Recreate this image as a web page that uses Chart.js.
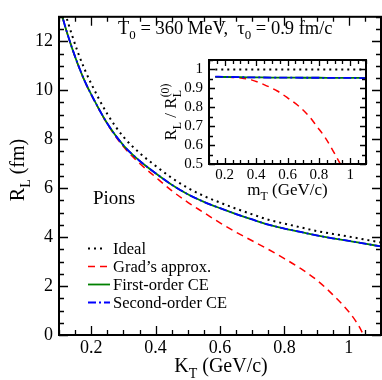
<!DOCTYPE html>
<html>
<head>
<meta charset="utf-8">
<script src="https://cdn.jsdelivr.net/npm/chart.js@4.4.1/dist/chart.umd.min.js"></script>
<style>
  html, body { margin: 0; padding: 0; background: #fff; }
  #wrap { position: relative; width: 382px; height: 380px; }
  #main { position: absolute; left: 0; top: 0; }
  #inset { position: absolute; left: 160px; top: 45px; }
</style>
</head>
<body>
<div id="wrap">
  <canvas id="main" width="382" height="380"></canvas>
  <canvas id="inset" width="220" height="160"></canvas>
</div>
<script>
// main panel: R_L vs K_T
const kT = [0.10, 0.12, 0.14, 0.16, 0.18, 0.20, 0.25, 0.30, 0.35, 0.40, 0.45, 0.50, 0.55, 0.60, 0.65, 0.70, 0.75, 0.80, 0.85, 0.90, 0.95, 1.00, 1.05, 1.10];
const rIdeal = [14.1, 13.12, 12.27, 11.5, 10.84, 10.27, 9.03, 8.1, 7.44, 6.91, 6.42, 6.01, 5.68, 5.41, 5.16, 4.93, 4.71, 4.55, 4.4, 4.25, 4.13, 4.02, 3.9, 3.78];
const rFirst = [13.5, 12.56, 11.74, 11.01, 10.37, 9.83, 8.64, 7.75, 7.12, 6.61, 6.14, 5.75, 5.44, 5.18, 4.94, 4.72, 4.51, 4.35, 4.21, 4.07, 3.95, 3.85, 3.73, 3.62];
const rSecond = [13.52, 12.57, 11.75, 11.02, 10.37, 9.83, 8.64, 7.75, 7.12, 6.61, 6.14, 5.75, 5.44, 5.18, 4.94, 4.72, 4.51, 4.35, 4.21, 4.07, 3.95, 3.85, 3.73, 3.62];
const kGrad = [0.10, 0.12, 0.14, 0.16, 0.18, 0.20, 0.25, 0.30, 0.35, 0.40, 0.45, 0.50, 0.55, 0.60, 0.65, 0.70, 0.75, 0.80, 0.85, 0.90, 0.95, 1.00, 1.02, 1.04, 1.045];
const rGrad = [13.5, 12.56, 11.74, 11.0, 10.36, 9.82, 8.62, 7.7, 7.02, 6.45, 5.9, 5.42, 5.0, 4.58, 4.2, 3.85, 3.5, 3.12, 2.72, 2.25, 1.65, 0.95, 0.6, 0.15, 0];

// inset: R_L / R_L^(0) vs m_T
const mT = [0.14, 0.2, 0.3, 0.4, 0.5, 0.6, 0.7, 0.8, 0.9, 1.0, 1.1];
const ratioIdeal = [1, 1, 1, 1, 1, 1, 1, 1, 1, 1, 1];
const ratioFirst = [0.961, 0.960, 0.959, 0.958, 0.957, 0.957, 0.956, 0.956, 0.955, 0.955, 0.955];
const ratioSecond = [0.962, 0.961, 0.959, 0.958, 0.957, 0.957, 0.956, 0.956, 0.955, 0.955, 0.954];
const mGrad = [0.14, 0.2, 0.25, 0.3, 0.37, 0.45, 0.535, 0.6, 0.68, 0.74, 0.786, 0.84, 0.89, 0.93, 0.95];
const ratioGrad = [0.961, 0.960, 0.958, 0.955, 0.945, 0.92, 0.886, 0.85, 0.80, 0.75, 0.70, 0.64, 0.57, 0.51, 0.48];

// tick labels
const mainXTicks = [0.2, 0.4, 0.6, 0.8, 1.0];
const mainYTicks = [0, 2, 4, 6, 8, 10, 12];
const insetXTicks = [0.2, 0.4, 0.6, 0.8, 1.0];
const insetYTicks = [0.5, 0.6, 0.7, 0.8, 0.9, 1.0];

const legendLabels = ['Ideal', "Grad\u2019s approx.", 'First-order CE', 'Second-order CE'];

const serif = "'Liberation Serif', 'Times New Roman', serif";
const styles = [
  { borderColor: '#000', borderWidth: 2, borderDash: [2, 4] },
  { borderColor: '#ff0000', borderWidth: 1.5, borderDash: [7, 5] },
  { borderColor: '#008000', borderWidth: 1.8, borderDash: [] },
  { borderColor: '#0000ff', borderWidth: 1.8, borderDash: [8, 3, 2, 3] }
];

const pts = (xs, ys) => xs.map((x, i) => ({ x: x, y: ys[i] }));

function makeSets(series) {
  const order = [3, 2, 1, 0];
  return series.map((s, i) => Object.assign({
    label: legendLabels[i],
    data: s,
    pointRadius: 0,
    fill: false,
    cubicInterpolationMode: 'monotone',
    clip: 0,
    order: order[i]
  }, styles[i]));
}

function drawRich(ctx, parts, x, y, size, align) {
  let w = 0, lastStart = 0;
  const pos = [];
  parts.forEach(([t, kind]) => {
    const s = kind ? size * 0.7 : size;
    ctx.font = s + 'px ' + serif;
    const tw = ctx.measureText(t).width;
    if (kind === 'supOver') {
      pos.push([t, s, lastStart, -0.42 * size]);
      w = Math.max(w, lastStart + tw);
    } else {
      const dy = kind === 'sub' ? 0.28 * size : kind === 'sup' ? -0.42 * size : 0;
      pos.push([t, s, w, dy]);
      lastStart = w;
      w += tw;
    }
  });
  const x0 = align === 'center' ? x - w / 2 : x;
  ctx.textAlign = 'left';
  ctx.textBaseline = 'alphabetic';
  ctx.fillStyle = '#000';
  pos.forEach(([t, s, px, dy]) => {
    ctx.font = s + 'px ' + serif;
    ctx.fillText(t, x0 + px, y + dy);
  });
}

function drawFrame(chart, xMajor, xStep, yMajor, yStep, majLen, minLen) {
  const { ctx, chartArea: a, scales } = chart;
  const sx = scales.x, sy = scales.y;
  ctx.save();
  ctx.strokeStyle = '#000';
  ctx.lineWidth = 1.3;
  ctx.beginPath();
  for (let v = sx.min; v <= sx.max + 1e-9; v += xStep) {
    const isMaj = xMajor.some(m => Math.abs(m - v) < 1e-6);
    const len = isMaj ? majLen : minLen;
    const px = Math.round(sx.getPixelForValue(v)) + 0.5;
    ctx.moveTo(px, a.bottom); ctx.lineTo(px, a.bottom - len);
    ctx.moveTo(px, a.top); ctx.lineTo(px, a.top + len);
  }
  for (let v = sy.min; v <= sy.max + 1e-9; v += yStep) {
    const isMaj = yMajor.some(m => Math.abs(m - v) < 1e-6);
    const len = isMaj ? majLen : minLen;
    const py = Math.round(sy.getPixelForValue(v)) + 0.5;
    ctx.moveTo(a.left, py); ctx.lineTo(a.left + len, py);
    ctx.moveTo(a.right, py); ctx.lineTo(a.right - len, py);
  }
  ctx.stroke();
  ctx.lineWidth = 2;
  ctx.strokeRect(a.left, a.top, a.right - a.left, a.bottom - a.top);
  ctx.restore();
}

const fmt = v => String(+v.toFixed(1));

const mainDeco = {
  id: 'mainDeco',
  afterDraw(chart) {
    const ctx = chart.ctx;
    drawFrame(chart, mainXTicks, 0.05, mainYTicks, 0.5, 9, 5);
    ctx.save();
    drawRich(ctx, [['T', ''], ['0', 'sub'], [' = 360 MeV,  \u03c4', ''], ['0', 'sub'], [' = 0.9 fm/c', '']], 118, 34, 18.5, 'left');
    ctx.font = '19px ' + serif;
    ctx.fillText('Pions', 93, 204);
    drawRich(ctx, [['K', ''], ['T', 'sub'], [' (GeV/c)', '']], 221, 372, 20, 'center');
    ctx.save();
    ctx.translate(24, 170);
    ctx.rotate(-Math.PI / 2);
    drawRich(ctx, [['R', ''], ['L', 'sub'], [' (fm)', '']], 0, 0, 20, 'center');
    ctx.restore();
    // legend
    const rows = [248, 266, 284, 302];
    const byLabel = {};
    chart.data.datasets.forEach(d => { byLabel[d.label] = d; });
    legendLabels.forEach((lab, i) => {
      const d = byLabel[lab];
      const y = rows[i];
      ctx.save();
      ctx.strokeStyle = d.borderColor;
      ctx.lineWidth = d.borderWidth;
      ctx.setLineDash(d.borderDash);
      ctx.beginPath();
      ctx.moveTo(88, y + 0.5);
      ctx.lineTo(i === 0 ? 104 : 110, y + 0.5);
      ctx.stroke();
      ctx.restore();
      ctx.font = '16.5px ' + serif;
      ctx.fillStyle = '#000';
      ctx.textBaseline = 'alphabetic';
      ctx.fillText(lab, 113, y + 5.5);
    });
    ctx.restore();
  }
};

const insetDeco = {
  id: 'insetDeco',
  afterDraw(chart) {
    const ctx = chart.ctx;
    const a = chart.chartArea;
    drawFrame(chart, insetXTicks, 0.05, insetYTicks, 0.05, 6, 4);
    ctx.save();
    drawRich(ctx, [['m', ''], ['T', 'sub'], [' (GeV/c)', '']], (a.left + a.right) / 2, a.bottom + 31, 17, 'center');
    ctx.translate(a.left - 33, (a.top + a.bottom) / 2);
    ctx.rotate(-Math.PI / 2);
    drawRich(ctx, [['R', ''], ['L', 'sub'], [' / R', ''], ['L', 'sub'], ['(0)', 'supOver']], 0, 0, 17, 'center');
    ctx.restore();
  }
};

function axes(xMin, xMax, yMin, yMax, xTicks, yTicks, yWidth, xHeight, size, xPad, yPad) {
  const tickFont = { family: serif, size: size };
  return {
    x: {
      type: 'linear', min: xMin, max: xMax,
      grid: { display: false, drawTicks: false }, border: { display: false },
      afterBuildTicks: s => { s.ticks = xTicks.map(v => ({ value: v })); },
      afterFit: s => { s.height = xHeight; },
      ticks: { font: tickFont, color: '#000', padding: xPad, maxRotation: 0, autoSkip: false, callback: fmt }
    },
    y: {
      type: 'linear', min: yMin, max: yMax,
      grid: { display: false, drawTicks: false }, border: { display: false },
      afterBuildTicks: s => { s.ticks = yTicks.map(v => ({ value: v })); },
      afterFit: s => { s.width = yWidth; },
      ticks: { font: tickFont, color: '#000', padding: yPad, autoSkip: false, callback: fmt }
    }
  };
}

const common = {
  responsive: false,
  animation: false,
  plugins: { legend: { display: false }, tooltip: { enabled: false } }
};

new Chart(document.getElementById('main').getContext('2d'), {
  type: 'line',
  data: {
    datasets: makeSets([pts(kT, rIdeal), pts(kGrad, rGrad), pts(kT, rFirst), pts(kT, rSecond)])
  },
  options: Object.assign({}, common, {
    layout: { padding: { top: 7, right: 1, left: 0, bottom: 0 } },
    scales: axes(0.1, 1.1, 0, 13, mainXTicks, mainYTicks, 59, 45, 18, 2, 6)
  }),
  plugins: [mainDeco]
});

new Chart(document.getElementById('inset').getContext('2d'), {
  type: 'line',
  data: {
    datasets: makeSets([pts(mT, ratioIdeal), pts(mGrad, ratioGrad), pts(mT, ratioFirst), pts(mT, ratioSecond)])
  },
  options: Object.assign({}, common, {
    layout: { padding: { top: 12, right: 14, left: 0, bottom: 0 } },
    scales: axes(0.1, 1.1, 0.5, 1.05, insetXTicks, insetYTicks, 49, 41, 15, 2, 6)
  }),
  plugins: [insetDeco]
});
</script>
</body>
</html>
